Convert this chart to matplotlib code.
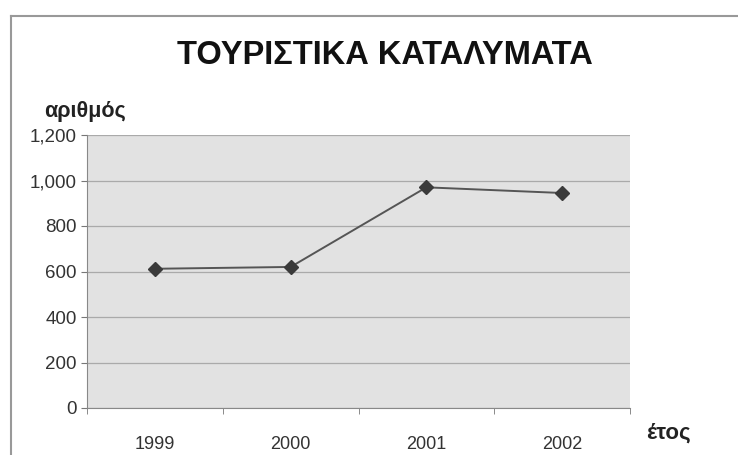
import matplotlib.pyplot as plt
from matplotlib.lines import Line2D

years = ['1999', '2000', '2001', '2002']
values = [612, 620, 970, 945]
y_ticks = [0, 200, 400, 600, 800, 1000, 1200]
y_labels = ['0', '200', '400', '600', '800', '1,000', '1,200']

plt.rcParams['font.family'] = ['Liberation Sans', 'DejaVu Sans']

fig = plt.figure(figsize=(7.38, 4.55), dpi=100)
# plot area in pixels: x 87-630, y 135-408
ax = fig.add_axes([87 / 738, 1 - 408 / 455, (630 - 87) / 738, (408 - 135) / 455])
ax.set_facecolor('#e2e2e2')

x = list(range(len(years)))
ax.plot(x, values, color='#555555', linewidth=1.4, marker='D', markersize=7,
        markerfacecolor='#3a3a3a', markeredgecolor='#3a3a3a', zorder=3)

ax.set_xlim(-0.5, len(years) - 0.5)
ax.set_ylim(0, 1200)
ax.set_yticks(y_ticks)
ax.set_yticklabels(y_labels)
ax.set_xticks(x)
ax.set_xticklabels(years)
ax.set_xticks([i - 0.5 for i in range(len(years) + 1)], minor=True)
ax.tick_params(axis='x', which='major', length=0, pad=20, labelsize=13, colors='#333333')
ax.tick_params(axis='x', which='minor', length=4, color='#777777')
ax.tick_params(axis='y', length=4, color='#777777', labelsize=13.5, colors='#333333')
ax.grid(axis='y', color='#aaaaaa', linewidth=0.9)
ax.set_axisbelow(True)

for s in ['top', 'right']:
    ax.spines[s].set_visible(False)
ax.spines['left'].set_color('#888888')
ax.spines['bottom'].set_color('#888888')

fig.text(385 / 738, 1 - 55 / 455, 'ΤΟΥΡΙΣΤΙΚΑ ΚΑΤΑΛΥΜΑΤΑ', ha='center', va='center',
         fontsize=23.5, fontweight='bold', color='#111111')
fig.text(85 / 738, 1 - 111 / 455, 'αριθμός', ha='center', va='center',
         fontsize=15.5, fontweight='bold', color='#222222')
fig.text(668 / 738, 1 - 433 / 455, 'έτος', ha='center', va='center',
         fontsize=16, fontweight='bold', color='#222222')

# chart border (top and left edges visible in the scan)
fig.add_artist(Line2D([11 / 738, 11 / 738], [0, 1 - 16 / 455], transform=fig.transFigure,
                      color='#999999', linewidth=1.5))
fig.add_artist(Line2D([11 / 738, 1], [1 - 16 / 455, 1 - 16 / 455], transform=fig.transFigure,
                      color='#999999', linewidth=1.5))

fig.savefig('out.png', dpi=100)
